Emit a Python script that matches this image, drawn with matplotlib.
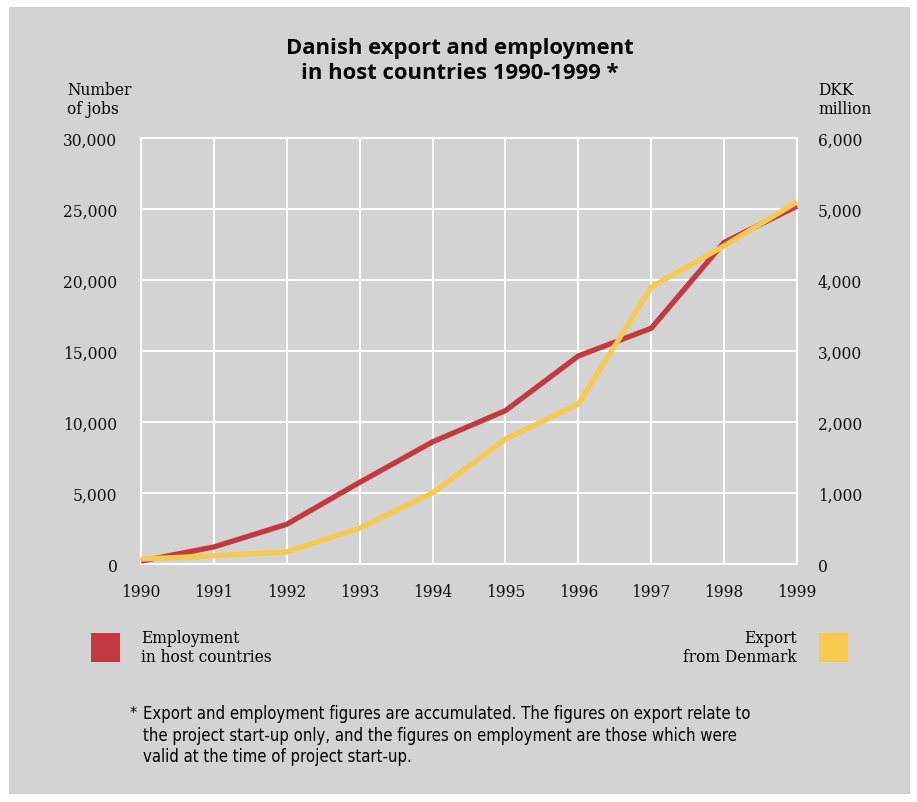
import matplotlib
matplotlib.use('Agg')
from matplotlib import pyplot as plt
from matplotlib.patches import Rectangle

years = [1990, 1991, 1992, 1993, 1994, 1995, 1996, 1997, 1998, 1999]
jobs = [200, 1200, 2800, 5750, 8600, 10800, 14650, 16600, 22650, 25200]
export_dkk = [70, 115, 170, 505, 1000, 1760, 2250, 3900, 4480, 5100]

jobs_ticks = [0, 5000, 10000, 15000, 20000, 25000, 30000]
dkk_ticks = [0, 1000, 2000, 3000, 4000, 5000, 6000]

RED = '#c4383f'
YELLOW = '#f7c94f'
GREY = '#d3d3d3'
W, H = 917, 803

serif = 'DejaVu Serif'
fs = 11.2
narrow = dict(family='DejaVu Sans', stretch='condensed')

fig = plt.figure(figsize=(W / 100, H / 100), dpi=100, facecolor='white')
bg = Rectangle((9 / W, 8 / H), 901 / W, 787 / H, transform=fig.transFigure,
               facecolor=GREY, edgecolor='none', zorder=-5)
fig.add_artist(bg)

ax = fig.add_axes([141 / W, 1 - 565 / H, 656 / W, 426 / H])
ax.set_facecolor(GREY)
ax.set_xlim(1990, 1999)
ax.set_ylim(0, 30000)
ax.set_xticks(years)
ax.set_yticks(jobs_ticks)
ax.set_yticklabels([f'{v:,}' for v in jobs_ticks])
ax.grid(True, color='white', linewidth=1.5)
ax.set_axisbelow(True)
for s in ax.spines.values():
    s.set_color('white')
    s.set_linewidth(1.5)
ax.tick_params(length=0, labelsize=fs, colors='#111111')
ax.tick_params(axis='y', pad=17)
ax.tick_params(axis='x', pad=14)
for lab in ax.get_xticklabels() + ax.get_yticklabels():
    lab.set_fontfamily(serif)

ax2 = ax.twinx()
ax2.set_ylim(0, 6000)
ax2.set_yticks(dkk_ticks)
ax2.set_yticklabels([f'{v:,}' for v in dkk_ticks])
ax2.tick_params(length=0, labelsize=fs, colors='#111111', pad=15)
for lab in ax2.get_yticklabels():
    lab.set_fontfamily(serif)
for s in ax2.spines.values():
    s.set_visible(False)

ax.plot(years, jobs, color=RED, linewidth=3.8, solid_capstyle='butt', zorder=3, clip_on=False)
ax2.plot(years, export_dkk, color=YELLOW, linewidth=3.8, solid_capstyle='butt', zorder=4, clip_on=False)

fig.text(460 / W, 1 - 61 / H, 'Danish export and employment\nin host countries 1990-1999 *',
         ha='center', va='center', fontsize=15.8, fontweight='bold',
         family='Open Sans', linespacing=1.25)

fig.text(67 / W, 1 - 100 / H, 'Number\nof jobs', ha='left', va='center',
         fontsize=fs, family=serif, linespacing=1.1)
fig.text(818 / W, 1 - 100 / H, 'DKK\nmillion', ha='left', va='center',
         fontsize=fs, family=serif, linespacing=1.1)

# legend squares with labels
fig.add_artist(Rectangle((91 / W, 1 - 663 / H), 29 / W, 29 / H,
                         transform=fig.transFigure, facecolor=RED, edgecolor='none'))
fig.add_artist(Rectangle((819 / W, 1 - 663 / H), 29 / W, 29 / H,
                         transform=fig.transFigure, facecolor=YELLOW, edgecolor='none'))
fig.text(141 / W, 1 - 648 / H, 'Employment\nin host countries', ha='left', va='center',
         fontsize=fs, family=serif, linespacing=1.15)
fig.text(797 / W, 1 - 648 / H, 'Export\nfrom Denmark', ha='right', va='center',
         fontsize=fs, family=serif, linespacing=1.15, multialignment='right')

note = ('Export and employment figures are accumulated. The figures on export relate to\n'
        'the project start-up only, and the figures on employment are those which were\n'
        'valid at the time of project start-up.')
fig.text(130 / W, 1 - 714 / H, '*', ha='left', va='center', fontsize=11.5, **narrow)
fig.text(143 / W, 1 - 736 / H, note, ha='left', va='center', fontsize=12.0,
         linespacing=1.25, **narrow)

fig.savefig('out.png', dpi=100, facecolor='white')
